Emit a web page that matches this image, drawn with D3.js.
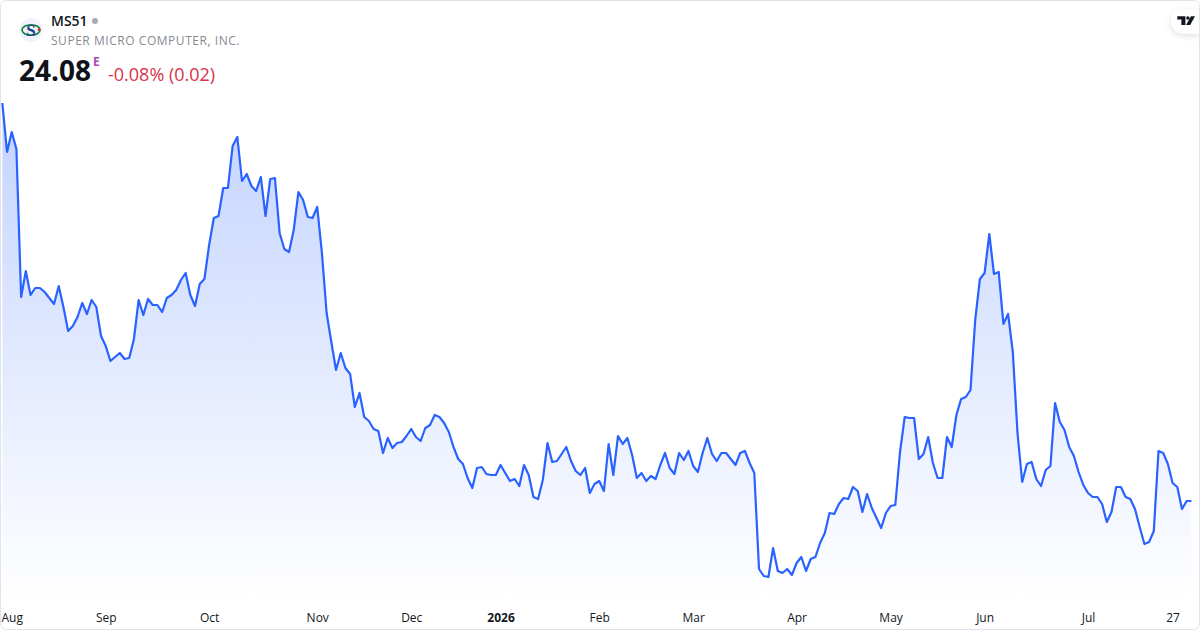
<!DOCTYPE html>
<html><head><meta charset="utf-8">
<script src="https://cdn.jsdelivr.net/npm/d3@7/dist/d3.min.js"></script>
<style>
html,body{margin:0;padding:0;background:#fff;width:1200px;height:630px;overflow:hidden}
svg{display:block;font-family:"Open Sans",sans-serif}
</style></head><body><svg id="c" width="1200" height="630"></svg>
<script>
const symbol = "MS51";
const companyName = "SUPER MICRO COMPUTER, INC.";
const lastPrice = "24.08";
const changeText = "-0.08% (0.02)";
const priceSeries = [
43.98,41.53,42.53,41.68,34.28,35.58,34.38,34.73,34.73,34.53,34.23,33.93,34.83,33.78,32.58,32.83,33.28,33.98,33.43,34.13,33.78,32.33,31.83,31.08,31.28,31.48,31.18,31.23,32.18,34.13,33.38,34.18,33.88,33.88,33.53,34.23,34.38,34.63,35.13,35.48,34.38,33.83,
34.93,35.18,36.88,38.23,38.33,39.73,39.73,41.83,42.28,40.08,40.43,39.83,39.58,40.28,38.33,40.18,40.23,37.48,36.68,36.53,37.63,39.53,39.13,38.28,38.23,38.78,36.48,33.48,32.03,30.63,31.48,30.73,30.43,28.78,29.48,28.28,28.08,27.68,27.58,26.48,27.23,26.73,26.98,
27.03,27.33,27.68,27.28,27.08,27.73,27.88,28.38,28.28,27.98,27.53,26.78,26.18,25.93,25.23,24.73,25.73,25.78,25.43,25.38,25.38,25.88,25.48,25.08,25.18,24.83,25.88,25.38,24.28,24.18,25.13,26.98,26.03,26.08,26.43,26.78,26.08,25.58,25.38,25.73,24.48,24.93,25.08,
24.58,26.93,25.38,27.33,26.93,27.23,26.38,25.23,25.48,25.08,25.33,25.18,25.88,26.48,25.73,25.43,26.48,26.13,26.58,25.83,25.53,26.48,27.23,26.43,26.08,26.48,26.48,26.18,25.88,26.48,26.58,25.98,25.48,20.68,20.33,20.28,21.73,20.58,20.48,20.68,20.38,20.98,21.28,
20.58,21.18,21.28,21.98,22.48,23.48,23.43,23.93,24.23,24.18,24.78,24.58,23.53,24.43,23.73,23.23,22.73,23.48,23.83,23.88,26.53,28.28,28.23,28.23,26.18,26.43,27.28,25.98,25.23,25.23,27.28,26.78,28.38,29.18,29.28,29.63,
33.13,35.18,35.48,37.43,35.43,35.53,32.93,33.43,31.53,27.48,25.03,25.93,26.03,25.18,24.83,25.63,25.83,28.98,28.03,27.63,26.78,26.33,25.53,24.88,24.48,24.28,24.28,23.93,23.03,23.53,24.78,24.78,24.28,24.18,23.68,22.78,21.93,22.03,22.58,26.58,26.48,25.93,24.98,24.78,23.68,24.08,24.08
];
const tickIndexes = [2,22,44,67,87,106,127,147,169,189,209,231,249];
const tickLabels = ["Aug","Sep","Oct","Nov","Dec","2026","Feb","Mar","Apr","May","Jun","Jul","27"];

const svg = d3.select("#c");
const x = d3.scaleLinear().domain([0, priceSeries.length-1]).range([2.33, 1191.4]);
const y = d3.scaleLinear().domain([17.63, 49.13]).range([630, 0]);

const defs = svg.append("defs");
const grad = defs.append("linearGradient").attr("id","fillGrad").attr("gradientUnits","userSpaceOnUse")
  .attr("x1",0).attr("x2",0).attr("y1",y(d3.max(priceSeries))).attr("y2",600);
grad.append("stop").attr("offset",0).attr("stop-color","#2962ff").attr("stop-opacity",0.28);
grad.append("stop").attr("offset",1).attr("stop-color","#2962ff").attr("stop-opacity",0);
const shadow = defs.append("filter").attr("id","pillShadow").attr("x","-40%").attr("y","-40%").attr("width","180%").attr("height","200%");
shadow.append("feDropShadow").attr("dx",0).attr("dy",2).attr("stdDeviation",3).attr("flood-color","#000").attr("flood-opacity",0.13);

svg.append("path").datum(priceSeries).attr("fill","url(#fillGrad)")
  .attr("d", d3.area().x((d,i)=>x(i)).y0(600).y1(d=>y(d)));
svg.append("path").datum(priceSeries).attr("fill","none").attr("stroke","#2962ff").attr("stroke-width",2.2)
  .attr("stroke-linejoin","round")
  .attr("d", d3.line().x((d,i)=>x(i)).y(d=>y(d)));

const axis = d3.axisBottom(x).tickValues(tickIndexes).tickSize(0).tickPadding(0)
  .tickFormat((d,i)=>tickLabels[i]);
const ax = svg.append("g").attr("transform","translate(0,613)").call(axis);
ax.select(".domain").remove();
ax.selectAll("text").attr("font-family",'"Open Sans",sans-serif').attr("font-size",12).attr("fill","#131722")
  .attr("dy","0.71em").attr("y",0)
  .attr("font-weight",(d,i)=>tickLabels[i]==="2026"?700:400);

// logo
const logo = svg.append("g").attr("transform","translate(31,30)");
logo.append("circle").attr("r",12).attr("fill","#f0f3fa");
logo.append("ellipse").attr("rx",9).attr("ry",5.2).attr("fill","none").attr("stroke","#14803f").attr("stroke-width",1.7);
logo.append("text").attr("text-anchor","middle").attr("y",5.5).attr("font-family",'"Liberation Serif",serif').attr("font-weight",700).attr("font-size",17).attr("fill","#1c3f8f").text("S");
logo.append("circle").attr("cx",8).attr("cy",-0.3).attr("r",1.4).attr("fill","#e5282e");

svg.append("text").attr("x",51).attr("y",26).attr("font-size",14).attr("font-weight",600).attr("fill","#131722").text(symbol);
svg.append("circle").attr("cx",95).attr("cy",21).attr("r",3).attr("fill","#a8abb3");
svg.append("text").attr("x",51).attr("y",45).attr("font-size",12).attr("letter-spacing",0.54).attr("fill","#878b94").text(companyName);
svg.append("text").attr("x",19).attr("y",81).attr("font-size",28).attr("font-weight",700).attr("fill","#0f1218").text(lastPrice);
svg.append("text").attr("x",93).attr("y",66).attr("font-size",12).attr("font-weight",700).attr("fill","#ab47bc").text("E");
svg.append("text").attr("x",108).attr("y",81).attr("font-size",18).attr("fill","#d9324a").text(changeText);

// TradingView badge
svg.append("path").attr("d","M1200,9.5 H1183 A12,12 0 0 0 1183,33.5 H1200 Z").attr("fill","#fff").attr("filter","url(#pillShadow)");
svg.append("path").attr("fill","#131722")
  .attr("d","M1177.3,16.2 H1185.4 V25 H1181.4 V19.6 H1177.3 Z M1189.6,18 A1.7,1.7 0 1 1 1186.2,18 A1.7,1.7 0 1 1 1189.6,18 Z M1191,16.2 H1195 L1190.2,25 H1186 Z");

svg.append("rect").attr("x",0.5).attr("y",0.5).attr("width",1199).attr("height",629).attr("rx",6)
  .attr("fill","none").attr("stroke","#e0e3eb");
</script></body></html>
